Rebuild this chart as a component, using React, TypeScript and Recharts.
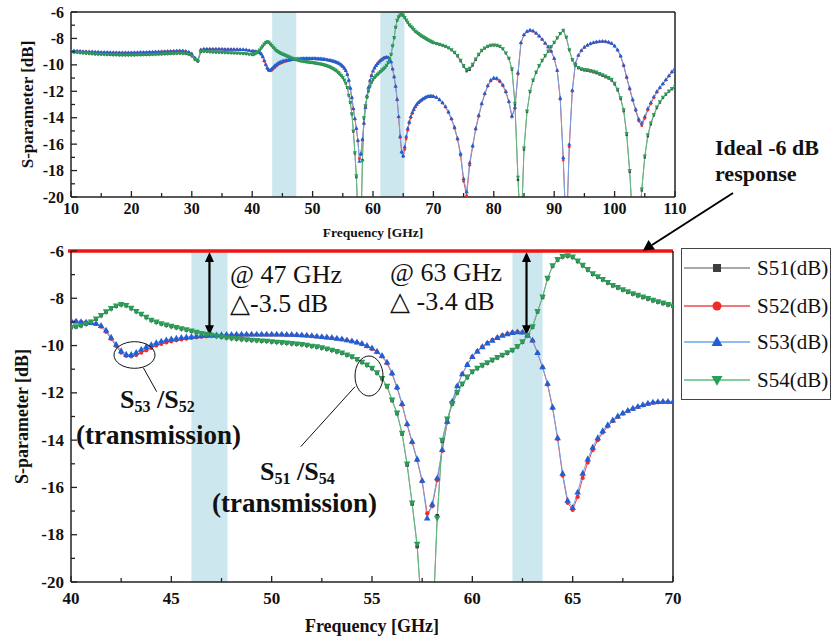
import React from 'react'
import {
  LineChart,
  Line,
  XAxis,
  YAxis,
  ReferenceArea,
  ReferenceLine,
  Legend,
  Label,
} from 'recharts'

const FONT = '"Liberation Serif", "Times New Roman", serif'

// frequency grid (GHz): coarse outside the zoomed band, fine inside it
const range = (a: number, b: number, step: number) => {
  const out: number[] = []
  for (let v = a; v <= b + 1e-9; v += step) out.push(Math.round(v * 100) / 100)
  return out
}
const FREQ_A = range(10, 40, 0.5)
const FREQ_B = range(40.25, 70, 0.25)
const FREQ_C = range(70.5, 110, 0.5)

// S53 (blue)
const S53_A = [
  -8.92, -8.93, -8.95, -8.96, -8.98, -8.99, -9.0, -9.01, -9.02, -9.03,
  -9.04, -9.05, -9.05, -9.06, -9.06, -9.07, -9.07, -9.07, -9.07, -9.07,
  -9.07, -9.06, -9.06, -9.05, -9.05, -9.04, -9.03, -9.02, -9.01, -9.0,
  -8.99, -8.98, -8.97, -8.96, -8.95, -8.94, -8.93, -8.94, -8.97, -9.03,
  -9.15, -9.45, -9.65, -8.85, -8.8, -8.79, -8.79, -8.79, -8.8, -8.8,
  -8.8, -8.81, -8.81, -8.81, -8.82, -8.82, -8.83, -8.84, -8.86, -8.9,
  -8.95,
]
const S53_B = [
  -8.97, -8.99, -9.01, -9.03, -9.06, -9.15, -9.35, -9.65,
  -9.95, -10.22, -10.37, -10.38, -10.29, -10.16, -10.05, -9.96,
  -9.88, -9.81, -9.76, -9.72, -9.69, -9.66, -9.64, -9.62,
  -9.6, -9.58, -9.57, -9.56, -9.55, -9.54, -9.53, -9.53,
  -9.52, -9.52, -9.52, -9.52, -9.52, -9.52, -9.52, -9.52,
  -9.52, -9.52, -9.53, -9.53, -9.54, -9.55, -9.56, -9.58,
  -9.6, -9.62, -9.64, -9.66, -9.69, -9.72, -9.76, -9.8,
  -9.85, -9.91, -10.0, -10.1, -10.24, -10.42, -10.7, -11.15,
  -11.75, -12.45, -13.3, -14.05, -14.8, -15.7, -17.3, -16.7,
  -15.6, -14.4, -13.2, -12.35, -11.7, -11.2, -10.8, -10.47,
  -10.24, -10.05, -9.9, -9.78, -9.66, -9.57, -9.5, -9.45,
  -9.42, -9.43, -9.55, -9.77, -10.3, -10.9, -11.6, -12.6,
  -13.9, -15.4, -16.55, -16.85, -16.2, -15.4, -14.8, -14.3,
  -13.9, -13.6, -13.35, -13.15, -12.98, -12.85, -12.74, -12.65,
  -12.57, -12.5, -12.44, -12.39, -12.37, -12.36, -12.36, -12.37,
]
const S53_C = [
  -12.45, -12.62, -12.85, -13.15, -13.55, -14.05, -14.7, -15.55, -16.7, -18.6,
  -19.6, -17.4, -16.1, -14.8, -13.8, -12.9, -12.15, -11.55, -11.15, -10.97,
  -11.0, -11.2, -11.5, -12.0, -12.75, -13.85, -13.2, -10.6, -8.3, -7.7,
  -7.45, -7.36, -7.42, -7.58, -7.8, -8.05, -8.35, -8.62, -8.95, -9.5,
  -10.4, -12.5, -17.0, -23.0, -16.0, -11.9, -9.9, -9.26, -8.9, -8.65,
  -8.5, -8.38, -8.3, -8.25, -8.22, -8.2, -8.22, -8.27, -8.36, -8.55,
  -8.85, -9.3, -10.0, -10.9, -11.75, -12.6, -13.35, -14.1, -14.4, -13.9,
  -13.3, -12.85, -12.4, -12.0, -11.7, -11.4, -11.1, -10.8, -10.5, -10.27,
]

// S52 (red)
const S52_A = [
  -8.93, -8.94, -8.96, -8.97, -8.99, -9.0, -9.01, -9.02, -9.03, -9.04,
  -9.05, -9.06, -9.06, -9.07, -9.07, -9.08, -9.08, -9.08, -9.08, -9.08,
  -9.08, -9.07, -9.07, -9.06, -9.06, -9.05, -9.04, -9.03, -9.02, -9.01,
  -9.0, -8.99, -8.98, -8.97, -8.96, -8.95, -8.94, -8.95, -8.98, -9.05,
  -9.17, -9.47, -9.67, -8.87, -8.82, -8.81, -8.81, -8.81, -8.82, -8.82,
  -8.82, -8.83, -8.83, -8.83, -8.84, -8.84, -8.85, -8.86, -8.88, -8.92,
  -8.96,
]
const S52_B = [
  -8.98, -9.0, -9.02, -9.05, -9.09, -9.2, -9.42, -9.72,
  -10.02, -10.3, -10.44, -10.46, -10.4, -10.3, -10.2, -10.1,
  -10.0, -9.93, -9.87, -9.82, -9.78, -9.74, -9.71, -9.68,
  -9.65, -9.63, -9.61, -9.6, -9.59, -9.58, -9.57, -9.56,
  -9.55, -9.55, -9.54, -9.54, -9.54, -9.54, -9.54, -9.54,
  -9.54, -9.54, -9.55, -9.55, -9.56, -9.57, -9.58, -9.6,
  -9.62, -9.64, -9.66, -9.68, -9.71, -9.74, -9.78, -9.82,
  -9.87, -9.94, -10.03, -10.14, -10.28, -10.46, -10.75, -11.2,
  -11.8, -12.5, -13.35, -14.1, -14.85, -15.75, -17.1, -16.8,
  -15.7, -14.45, -13.25, -12.4, -11.72, -11.2, -10.8, -10.47,
  -10.23, -10.04, -9.89, -9.76, -9.65, -9.56, -9.49, -9.44,
  -9.42, -9.44, -9.56, -9.79, -10.32, -10.92, -11.65, -12.65,
  -13.95, -15.5, -16.65, -16.95, -16.4, -15.6, -14.95, -14.42,
  -14.0, -13.68, -13.42, -13.2, -13.02, -12.88, -12.77, -12.68,
  -12.6, -12.53, -12.47, -12.42, -12.4, -12.39, -12.39, -12.4,
]
const S52_C = [
  -12.48, -12.66, -12.9, -13.2, -13.62, -14.12, -14.8, -15.65, -16.85, -18.8,
  -19.9, -17.6, -16.2, -14.9, -13.9, -12.98, -12.22, -11.62, -11.22, -11.05,
  -11.08, -11.28, -11.58, -12.08, -12.82, -13.95, -13.3, -10.7, -8.35, -7.75,
  -7.5, -7.4, -7.46, -7.62, -7.84, -8.08, -8.38, -8.65, -8.98, -9.54,
  -10.45, -12.6, -17.2, -23.0, -16.2, -12.0, -9.95, -9.3, -8.94, -8.69,
  -8.54, -8.42, -8.34, -8.29, -8.26, -8.24, -8.26, -8.31, -8.4, -8.6,
  -8.9, -9.36, -10.07, -10.98, -11.85, -12.7, -13.48, -14.25, -14.6, -14.05,
  -13.42, -12.95, -12.48, -12.08, -11.76, -11.46, -11.16, -10.86, -10.56, -10.32,
]

// S54 (green)
const S54_A = [
  -9.02, -9.04, -9.06, -9.08, -9.1, -9.12, -9.14, -9.16, -9.18, -9.19,
  -9.2, -9.21, -9.22, -9.23, -9.24, -9.24, -9.25, -9.25, -9.25, -9.25,
  -9.25, -9.25, -9.24, -9.24, -9.23, -9.23, -9.22, -9.21, -9.2, -9.19,
  -9.18, -9.17, -9.16, -9.15, -9.14, -9.13, -9.12, -9.13, -9.15, -9.2,
  -9.32, -9.58, -9.72, -9.0, -8.97, -8.99, -9.01, -9.03, -9.04, -9.05,
  -9.06, -9.07, -9.08, -9.09, -9.1, -9.11, -9.12, -9.14, -9.16, -9.19,
  -9.23,
]
const S54_B = [
  -9.2, -9.15, -9.08, -9.0, -8.87, -8.72, -8.57, -8.43,
  -8.32, -8.26, -8.3, -8.42, -8.55, -8.67, -8.8, -8.92,
  -9.0, -9.07, -9.13, -9.18, -9.23, -9.28, -9.33, -9.38,
  -9.43, -9.48, -9.52, -9.56, -9.6, -9.63, -9.66, -9.69,
  -9.71, -9.73, -9.75, -9.77, -9.78, -9.8, -9.81, -9.83,
  -9.85, -9.87, -9.89, -9.91, -9.93, -9.95, -9.98, -10.02,
  -10.05, -10.09, -10.14, -10.19, -10.25, -10.31, -10.39, -10.47,
  -10.58, -10.7, -10.82, -10.96, -11.15, -11.39, -11.72, -12.3,
  -12.85, -13.7, -15.0, -16.65, -18.4, -21.5, -24.0, -22.5,
  -17.3, -14.0, -13.1, -12.45, -11.98, -11.62, -11.33, -11.1,
  -10.95, -10.83, -10.72, -10.61, -10.5, -10.4, -10.3, -10.19,
  -10.03, -9.83, -9.57, -9.2, -8.55, -7.94, -7.15, -6.62,
  -6.36, -6.23, -6.2, -6.25, -6.42, -6.6, -6.78, -6.96,
  -7.08, -7.2, -7.33, -7.45, -7.54, -7.63, -7.72, -7.8,
  -7.87, -7.94, -8.01, -8.08, -8.14, -8.2, -8.26, -8.32,
]
const S54_C = [
  -8.38, -8.45, -8.52, -8.6, -8.7, -8.85, -9.05, -9.3, -9.65, -10.05,
  -10.35, -10.25, -9.95, -9.55, -9.2, -8.9, -8.72, -8.6, -8.52, -8.5,
  -8.52, -8.6, -8.78, -9.1, -9.5, -10.3, -12.9, -18.5, -23.0, -16.3,
  -13.5, -12.0, -11.15, -10.55, -10.05, -9.65, -9.3, -8.95, -8.62, -8.3,
  -7.95, -7.62, -7.38, -7.9, -8.85, -9.6, -10.0, -10.2, -10.3, -10.35,
  -10.38, -10.42, -10.48, -10.55, -10.65, -10.75, -10.85, -10.95, -11.1, -11.4,
  -11.85, -12.5, -13.4, -15.2, -18.0, -22.0, -24.0, -22.5, -19.4, -16.9,
  -15.3, -14.4, -13.75, -13.2, -12.8, -12.45, -12.2, -11.98, -11.8, -11.65,
]

// S51 (dark grey), mostly hidden under S54
const S51_A = [
  -9.03, -9.05, -9.07, -9.09, -9.11, -9.13, -9.15, -9.17, -9.19, -9.2,
  -9.21, -9.22, -9.23, -9.24, -9.25, -9.25, -9.26, -9.26, -9.26, -9.26,
  -9.26, -9.26, -9.25, -9.25, -9.24, -9.24, -9.23, -9.22, -9.21, -9.2,
  -9.19, -9.18, -9.17, -9.16, -9.15, -9.14, -9.13, -9.14, -9.16, -9.21,
  -9.34, -9.6, -9.75, -9.02, -8.98, -9.0, -9.02, -9.04, -9.05, -9.06,
  -9.07, -9.08, -9.09, -9.1, -9.11, -9.12, -9.13, -9.15, -9.17, -9.2,
  -9.24,
]
const S51_B = [
  -9.21, -9.16, -9.09, -9.01, -8.88, -8.73, -8.58, -8.44,
  -8.33, -8.27, -8.31, -8.43, -8.56, -8.68, -8.81, -8.93,
  -9.01, -9.08, -9.14, -9.19, -9.24, -9.29, -9.34, -9.39,
  -9.44, -9.49, -9.53, -9.57, -9.61, -9.64, -9.67, -9.7,
  -9.72, -9.74, -9.76, -9.78, -9.79, -9.81, -9.82, -9.84,
  -9.86, -9.88, -9.9, -9.92, -9.94, -9.96, -9.99, -10.03,
  -10.06, -10.1, -10.15, -10.2, -10.26, -10.32, -10.4, -10.48,
  -10.59, -10.71, -10.83, -10.97, -11.16, -11.4, -11.74, -12.32,
  -12.88, -13.74, -15.05, -16.7, -18.5, -21.6, -24.0, -22.4,
  -17.2, -14.05, -13.12, -12.47, -12.0, -11.64, -11.35, -11.12,
  -10.97, -10.85, -10.74, -10.63, -10.52, -10.42, -10.32, -10.21,
  -10.05, -9.85, -9.59, -9.22, -8.57, -7.96, -7.17, -6.64,
  -6.38, -6.25, -6.22, -6.27, -6.44, -6.62, -6.8, -6.98,
  -7.1, -7.22, -7.35, -7.47, -7.56, -7.65, -7.74, -7.82,
  -7.89, -7.96, -8.03, -8.1, -8.16, -8.22, -8.28, -8.34,
]
const S51_C = [
  -8.4, -8.47, -8.54, -8.62, -8.73, -8.88, -9.09, -9.35, -9.72, -10.13,
  -10.48, -10.38, -10.05, -9.62, -9.25, -8.94, -8.75, -8.62, -8.54, -8.52,
  -8.54, -8.62, -8.8, -9.12, -9.53, -10.35, -13.0, -18.7, -23.0, -16.4,
  -13.55, -12.05, -11.2, -10.6, -10.1, -9.7, -9.34, -8.98, -8.65, -8.33,
  -7.98, -7.65, -7.4, -7.93, -8.88, -9.64, -10.05, -10.25, -10.36, -10.42,
  -10.45, -10.5, -10.56, -10.63, -10.73, -10.83, -10.93, -11.03, -11.18, -11.48,
  -11.93, -12.58, -13.5, -15.3, -18.1, -22.0, -24.0, -22.5, -19.5, -17.0,
  -15.4, -14.5, -13.82, -13.26, -12.85, -12.5, -12.25, -12.02, -11.84, -11.69,
]

const FREQ = [...FREQ_A, ...FREQ_B, ...FREQ_C]
const S51 = [...S51_A, ...S51_B, ...S51_C]
const S52 = [...S52_A, ...S52_B, ...S52_C]
const S53 = [...S53_A, ...S53_B, ...S53_C]
const S54 = [...S54_A, ...S54_B, ...S54_C]

const rows = FREQ.map((f, i) => ({ f, s51: S51[i], s52: S52[i], s53: S53[i], s54: S54[i] }))
const zoomRows = rows.filter((r) => r.f >= 40 && r.f <= 70)

const TOP_X_TICKS = range(10, 110, 5)
const BOT_X_TICKS = range(40, 70, 2.5)
const Y_TICKS = range(-20, -6, 1)

// top / bottom marker sizes per series
const SERIES = [
  { key: 's51', name: 'S51(dB)', shape: 'square', mark: '#3d3d3d', line: '#8c8c8c', top: 2.4, bot: 3.6 },
  { key: 's52', name: 'S52(dB)', shape: 'circle', mark: '#ee2b25', line: '#f04848', top: 2.8, bot: 4.2 },
  { key: 's53', name: 'S53(dB)', shape: 'up', mark: '#1f60d8', line: '#6ea6ea', top: 3.8, bot: 6 },
  { key: 's54', name: 'S54(dB)', shape: 'down', mark: '#2a9e56', line: '#5fbd7e', top: 3.8, bot: 6 },
]

function marker(shape: string, cx: number, cy: number, s: number, color: string, key?: any) {
  const h = s / 2
  if (shape === 'square')
    return <rect key={key} x={cx - h} y={cy - h} width={s} height={s} fill={color} />
  if (shape === 'circle') return <circle key={key} cx={cx} cy={cy} r={h} fill={color} />
  if (shape === 'up')
    return (
      <path
        key={key}
        d={`M${cx},${cy - h * 1.15}L${cx + h * 1.1},${cy + h * 0.8}L${cx - h * 1.1},${cy + h * 0.8}Z`}
        fill={color}
      />
    )
  return (
    <path
      key={key}
      d={`M${cx},${cy + h * 1.15}L${cx + h * 1.1},${cy - h * 0.8}L${cx - h * 1.1},${cy - h * 0.8}Z`}
      fill={color}
    />
  )
}

const dotFor = (shape: string, color: string, s: number) => (p: any) => {
  if (p.cx == null || p.cy == null || isNaN(p.cy)) return <g key={p.index} />
  return marker(shape, p.cx, p.cy, s, color, p.index)
}

const isMajor = (v: number, step: number) => Math.abs(v / step - Math.round(v / step)) < 1e-6

const xTick = (step: number, fs: number, dy: number) => (p: any) => {
  const v = p.payload.value
  const major = isMajor(v, step)
  return (
    <g>
      <line x1={p.x} x2={p.x} y1={p.y} y2={p.y - (major ? 6 : 4)} stroke="#222" strokeWidth={1.3} />
      {major && (
        <text
          x={p.x}
          y={p.y + dy}
          textAnchor="middle"
          dominantBaseline="central"
          fontFamily={FONT}
          fontWeight="bold"
          fontSize={fs}
          fill="#111"
        >
          {v}
        </text>
      )}
    </g>
  )
}

const yTick = (fs: number) => (p: any) => {
  const v = p.payload.value
  const major = isMajor(v, 2)
  return (
    <g>
      <line x1={p.x} x2={p.x + (major ? 6 : 4)} y1={p.y} y2={p.y} stroke="#222" strokeWidth={1.3} />
      {major && (
        <text
          x={p.x - 7}
          y={p.y}
          textAnchor="end"
          dominantBaseline="central"
          fontFamily={FONT}
          fontWeight="bold"
          fontSize={fs}
          fill="#111"
        >
          {v}
        </text>
      )}
    </g>
  )
}

const rightTick = (p: any) => {
  const major = isMajor(p.payload.value, 2)
  return <line x1={p.x} x2={p.x - (major ? 6 : 4)} y1={p.y} y2={p.y} stroke="#222" strokeWidth={1.3} />
}

const yLabel = (dx: number, fs: number) => (
  <Label
    content={(p: any) => {
      const vb = p.viewBox
      const cx = vb.x + dx
      const cy = vb.y + vb.height / 2
      return (
        <text
          x={cx}
          y={cy}
          transform={`rotate(-90 ${cx} ${cy})`}
          textAnchor="middle"
          dominantBaseline="central"
          fontFamily={FONT}
          fontWeight="bold"
          fontSize={fs}
          fill="#111"
        >
          S-parameter [dB]
        </text>
      )
    }}
  />
)

const DoubleArrow = (p: any) => {
  const x = p.x1
  const top = Math.min(p.y1, p.y2)
  const bot = Math.max(p.y1, p.y2)
  return (
    <g>
      <line x1={x} x2={x} y1={top + 6} y2={bot - 6} stroke="#000" strokeWidth={2.2} />
      <path d={`M${x},${top + 1}L${x - 4.5},${top + 11}L${x + 4.5},${top + 11}Z`} fill="#000" />
      <path d={`M${x},${bot}L${x - 4.5},${bot - 10}L${x + 4.5},${bot - 10}Z`} fill="#000" />
    </g>
  )
}

function LegendBox() {
  return (
    <div
      style={{
        width: 150,
        height: 152,
        boxSizing: 'border-box',
        border: '1.5px solid #444',
        background: '#fff',
        position: 'relative',
      }}
    >
      <svg width={148} height={150} style={{ position: 'absolute', left: 0, top: 0 }}>
        {SERIES.map((s, i) => {
          const y = [19, 57, 93, 131][i]
          return (
            <g key={s.key}>
              <line x1={2} x2={68} y1={y} y2={y} stroke={s.line} strokeWidth={1.6} />
              {marker(s.shape, 35, y, s.shape === 'circle' ? 9 : s.shape === 'square' ? 8 : 10, s.mark)}
              <text x={75} y={y} dominantBaseline="central" fontFamily={FONT} fontSize={21} fill="#111">
                {s.name}
              </text>
            </g>
          )
        })}
      </svg>
    </div>
  )
}

const BAND = '#cde7ef'

export default function App() {
  return (
    <div
      style={{
        position: 'absolute',
        left: 0,
        top: 0,
        width: 831,
        height: 640,
        background: '#fff',
        overflow: 'hidden',
      }}
    >
      {/* full band 10-110 GHz */}
      <div style={{ position: 'absolute', left: 0, top: 0 }}>
        <LineChart width={700} height={245} data={rows} margin={{ top: 12, right: 24, bottom: 0, left: 0 }}>
          <ReferenceArea x1={43.3} x2={47.3} y1={-20} y2={-6} fill={BAND} fillOpacity={1} stroke="none" />
          <ReferenceArea x1={61.2} x2={65.2} y1={-20} y2={-6} fill={BAND} fillOpacity={1} stroke="none" />
          <XAxis
            dataKey="f"
            type="number"
            domain={[10, 110]}
            ticks={TOP_X_TICKS}
            interval={0}
            allowDataOverflow
            height={48}
            tickSize={0}
            tickMargin={0}
            tick={xTick(10, 16, 11)}
            axisLine={{ stroke: '#222', strokeWidth: 1.5 }}
          >
            <Label
              value="Frequency [GHz]"
              position="insideBottom"
              offset={8}
              fontFamily={FONT}
              fontWeight="bold"
              fontSize={13.5}
              fill="#111"
            />
          </XAxis>
          <YAxis
            type="number"
            domain={[-20, -6]}
            ticks={Y_TICKS}
            interval={0}
            allowDataOverflow
            width={71}
            tickSize={0}
            tickMargin={0}
            tick={yTick(16)}
            axisLine={{ stroke: '#222', strokeWidth: 1.5 }}
            label={yLabel(27, 17)}
          />
          <YAxis
            yAxisId="r"
            orientation="right"
            type="number"
            domain={[-20, -6]}
            ticks={Y_TICKS}
            interval={0}
            width={1}
            tickSize={0}
            tickMargin={0}
            tick={rightTick}
            axisLine={{ stroke: '#222', strokeWidth: 1.5 }}
          />
          <ReferenceLine y={-6} stroke="#222" strokeWidth={1.5} />
          {SERIES.map((s) => (
            <Line
              key={s.key}
              dataKey={s.key}
              name={s.name}
              type="linear"
              stroke={s.line}
              strokeWidth={1}
              dot={dotFor(s.shape, s.mark, s.top)}
              isAnimationActive={false}
            />
          ))}
        </LineChart>
      </div>

      {/* zoom 40-70 GHz */}
      <div style={{ position: 'absolute', left: 0, top: 238 }}>
        <LineChart width={831} height={402} data={zoomRows} margin={{ top: 13, right: 157, bottom: 0, left: 0 }}>
          <ReferenceArea x1={46} x2={47.8} y1={-20} y2={-6} fill={BAND} fillOpacity={1} stroke="none" />
          <ReferenceArea x1={62} x2={63.5} y1={-20} y2={-6} fill={BAND} fillOpacity={1} stroke="none" />
          <XAxis
            dataKey="f"
            type="number"
            domain={[40, 70]}
            ticks={BOT_X_TICKS}
            interval={0}
            allowDataOverflow
            height={58}
            tickSize={0}
            tickMargin={0}
            tick={xTick(5, 17, 16)}
            axisLine={{ stroke: '#222', strokeWidth: 1.5 }}
          >
            <Label
              value="Frequency [GHz]"
              position="insideBottom"
              offset={8}
              fontFamily={FONT}
              fontWeight="bold"
              fontSize={18}
              fill="#111"
            />
          </XAxis>
          <YAxis
            type="number"
            domain={[-20, -6]}
            ticks={Y_TICKS}
            interval={0}
            allowDataOverflow
            width={71}
            tickSize={0}
            tickMargin={0}
            tick={yTick(17)}
            axisLine={{ stroke: '#222', strokeWidth: 1.5 }}
            label={yLabel(22, 18)}
          />
          <YAxis
            yAxisId="r"
            orientation="right"
            type="number"
            domain={[-20, -6]}
            ticks={Y_TICKS}
            interval={0}
            width={1}
            tickSize={0}
            tickMargin={0}
            tick={rightTick}
            axisLine={{ stroke: '#222', strokeWidth: 1.5 }}
          />
          {SERIES.map((s) => (
            <Line
              key={s.key}
              dataKey={s.key}
              name={s.name}
              type="linear"
              stroke={s.line}
              strokeWidth={1}
              dot={dotFor(s.shape, s.mark, s.bot)}
              isAnimationActive={false}
            />
          ))}
          <ReferenceLine
            segment={[
              { x: 46.9, y: -6 },
              { x: 46.9, y: -9.56 },
            ]}
            shape={DoubleArrow}
          />
          <ReferenceLine
            segment={[
              { x: 62.7, y: -6 },
              { x: 62.7, y: -9.56 },
            ]}
            shape={DoubleArrow}
          />
          <ReferenceLine
            segment={[
              { x: 39.85, y: -6 },
              { x: 70, y: -6 },
            ]}
            ifOverflow="visible"
            stroke="#f01414"
            strokeWidth={3.5}
          />
          <Legend
            layout="vertical"
            align="center"
            verticalAlign="middle"
            wrapperStyle={{ left: 681, top: 10, width: 150 }}
            content={() => <LegendBox />}
          />
        </LineChart>
      </div>

      {/* annotations */}
      <svg
        width={831}
        height={640}
        style={{ position: 'absolute', left: 0, top: 0, pointerEvents: 'none' }}
        fontFamily={FONT}
        fill="#111"
      >
        <text x={715} y={155} fontWeight="bold" fontSize={22}>
          Ideal -6 dB
        </text>
        <text x={715} y={181} fontWeight="bold" fontSize={22}>
          response
        </text>
        <line x1={733} y1={193} x2={652} y2={245} stroke="#000" strokeWidth={2} />
        <path d="M643,250.5 L648.5,240 L655,249.5 Z" fill="#000" />

        <text x={230} y={283} fontSize={26}>
          @ 47 GHz
        </text>
        <text x={230} y={312} fontSize={26}>
          △-3.5 dB
        </text>
        <text x={390} y={281} fontSize={26}>
          @ 63 GHz
        </text>
        <text x={390} y={310} fontSize={26}>
          △ -3.4 dB
        </text>

        <ellipse cx={134.5} cy={355} rx={20.5} ry={13.3} fill="none" stroke="#111" strokeWidth={1} />
        <line x1={143.3} y1={367.7} x2={156.7} y2={391.7} stroke="#111" strokeWidth={1} />
        <text x={120} y={408} fontWeight="bold" fontSize={26}>
          S<tspan fontSize={16} dy={4}>53</tspan>
          <tspan dy={-4}> /S</tspan>
          <tspan fontSize={16} dy={4}>52</tspan>
        </text>
        <text x={76} y={444} fontWeight="bold" fontSize={27}>
          (transmission)
        </text>

        <ellipse cx={369} cy={376} rx={14} ry={20} fill="none" stroke="#111" strokeWidth={1} />
        <line x1={355} y1={386.7} x2={300.7} y2={446.7} stroke="#111" strokeWidth={1} />
        <text x={260} y={480} fontWeight="bold" fontSize={26}>
          S<tspan fontSize={16} dy={4}>51</tspan>
          <tspan dy={-4}> /S</tspan>
          <tspan fontSize={16} dy={4}>54</tspan>
        </text>
        <text x={212} y={512} fontWeight="bold" fontSize={27}>
          (transmission)
        </text>
      </svg>
    </div>
  )
}
